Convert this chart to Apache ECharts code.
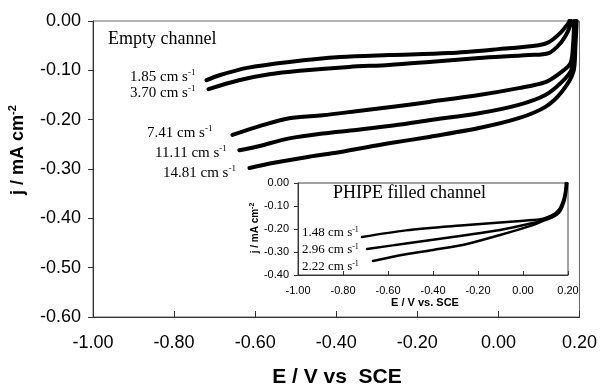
<!DOCTYPE html>
<html>
<head>
<meta charset="utf-8">
<script src="https://cdn.jsdelivr.net/npm/echarts@6/dist/echarts.min.js"></script>
<style>
  html, body { margin: 0; padding: 0; background: #fff; }
  #chart { width: 600px; height: 387px; }
</style>
</head>
<body>
<div id="chart"></div>
<script>
// main plot: empty channel, flow rates (cm s-1)
const emptyRates = ['1.85', '3.70', '7.41', '11.11', '14.81']
const empty185 = [[-0.72,-0.120],[-0.688,-0.110],[-0.62,-0.095],[-0.516,-0.083],[-0.39,-0.073],[-0.27,-0.069],[-0.122,-0.065],[0.0,-0.057],[0.099,-0.049],[0.124,-0.043],[0.153,-0.024],[0.173,-0.004],[0.175,0]]
const empty370 = [[-0.715,-0.138],[-0.64,-0.120],[-0.565,-0.108],[-0.49,-0.101],[-0.368,-0.093],[-0.27,-0.089],[-0.171,-0.083],[-0.048,-0.075],[0.075,-0.069],[0.124,-0.065],[0.153,-0.045],[0.172,-0.02],[0.18,0]]
const empty741 = [[-0.656,-0.231],[-0.597,-0.215],[-0.516,-0.197],[-0.434,-0.191],[-0.351,-0.183],[-0.27,-0.175],[-0.171,-0.164],[-0.048,-0.150],[0.05,-0.136],[0.116,-0.124],[0.156,-0.103],[0.178,-0.085],[0.184,-0.05],[0.187,0]]
const empty1111 = [[-0.639,-0.262],[-0.597,-0.255],[-0.516,-0.238],[-0.434,-0.228],[-0.351,-0.221],[-0.27,-0.213],[-0.171,-0.201],[-0.048,-0.187],[0.05,-0.170],[0.116,-0.150],[0.156,-0.124],[0.180,-0.099],[0.187,-0.05],[0.19,0]]
const empty1481 = [[-0.614,-0.298],[-0.557,-0.288],[-0.474,-0.276],[-0.393,-0.266],[-0.27,-0.248],[-0.171,-0.235],[-0.048,-0.217],[0.05,-0.197],[0.116,-0.174],[0.156,-0.144],[0.185,-0.103],[0.19,-0.05],[0.193,0]]

// inset: PHIPE filled channel
const filledRates = ['1.48', '2.96', '2.22']
const filled148 = [[-0.716,-0.235],[-0.52,-0.206],[-0.249,-0.183],[-0.102,-0.172],[0.044,-0.161],[0.09,-0.155],[0.13,-0.14],[0.16,-0.115],[0.18,-0.07],[0.188,-0.03],[0.19,0]]
const filled296 = [[-0.693,-0.287],[-0.52,-0.263],[-0.249,-0.226],[-0.102,-0.204],[0.044,-0.174],[0.09,-0.16],[0.13,-0.145],[0.162,-0.12],[0.182,-0.075],[0.19,-0.03],[0.194,0]]
const filled222 = [[-0.667,-0.339],[-0.52,-0.31],[-0.4,-0.291],[-0.249,-0.265],[-0.102,-0.226],[0.044,-0.183],[0.09,-0.165],[0.13,-0.15],[0.164,-0.125],[0.184,-0.08],[0.193,-0.035],[0.197,0]]

const xTicks = [-1.0, -0.8, -0.6, -0.4, -0.2, 0.0, 0.2]
const yTicksMain = [0, -0.1, -0.2, -0.3, -0.4, -0.5, -0.6]
const yTicksInset = [0, -0.1, -0.2, -0.3, -0.4]

const sans = '"Liberation Sans", Arial, sans-serif'
const serif = '"Liberation Serif", "Times New Roman", serif'

const chart = echarts.init(document.getElementById('chart'))

const fmt = v => v.toFixed(2)

function rateLabel(x, y, rate, size) {
  return {
    type: 'text', x, y, z: 100,
    style: {
      text: '{t|' + rate + ' cm s}{s|-1}',
      align: 'left', verticalAlign: 'middle',
      rich: {
        t: { fontFamily: serif, fontSize: size, fill: '#000' },
        s: { fontFamily: serif, fontSize: Math.round(size * 0.6), fill: '#000', padding: [0, 0, Math.round(size * 0.5), 0] }
      }
    }
  }
}

function curve(name, data, xi, width) {
  return {
    name, type: 'line', xAxisIndex: xi, yAxisIndex: xi,
    data, showSymbol: false, smooth: 0.3, z: 10,
    lineStyle: { color: '#000', width, cap: 'round', join: 'round' },
    silent: true
  }
}

const option = {
  animation: false,
  backgroundColor: '#fff',
  grid: [
    { left: 93, right: 19, top: 21, bottom: 70, show: true, borderColor: '#666', borderWidth: 1 },
    { left: 298, right: 32, top: 183, bottom: 112, show: true, borderColor: '#444', borderWidth: 1, backgroundColor: '#fff' }
  ],
  xAxis: [
    {
      type: 'value', gridIndex: 0, min: xTicks[0], max: xTicks[xTicks.length - 1], interval: 0.2,
      axisLine: { onZero: false, lineStyle: { color: '#333', width: 1 } },
      axisTick: { inside: true, length: 6, lineStyle: { color: '#333' } },
      axisLabel: { formatter: fmt, color: '#000', fontFamily: sans, fontSize: 18, margin: 17 },
      splitLine: { show: false }
    },
    {
      type: 'value', gridIndex: 1, min: xTicks[0], max: xTicks[xTicks.length - 1], interval: 0.2,
      axisLine: { onZero: false, lineStyle: { color: '#333', width: 1 } },
      axisTick: { inside: true, length: 4, lineStyle: { color: '#333' } },
      axisLabel: { formatter: fmt, color: '#000', fontFamily: sans, fontSize: 11, margin: 10 },
      splitLine: { show: false }
    }
  ],
  yAxis: [
    {
      type: 'value', gridIndex: 0, min: yTicksMain[yTicksMain.length - 1], max: yTicksMain[0], interval: 0.1,
      axisLine: { show: true, onZero: false, lineStyle: { color: '#333', width: 1 } },
      axisTick: { show: true, length: 5, lineStyle: { color: '#333' } },
      axisLabel: { formatter: fmt, color: '#000', fontFamily: sans, fontSize: 18, margin: 12 },
      splitLine: { show: false }
    },
    {
      type: 'value', gridIndex: 1, min: yTicksInset[yTicksInset.length - 1], max: yTicksInset[0], interval: 0.1,
      axisLine: { show: true, onZero: false, lineStyle: { color: '#333', width: 1 } },
      axisTick: { show: true, length: 4, lineStyle: { color: '#333' } },
      axisLabel: { formatter: fmt, color: '#000', fontFamily: sans, fontSize: 11, margin: 9 },
      splitLine: { show: false }
    }
  ],
  series: [
    curve(emptyRates[0], empty185, 0, 4),
    curve(emptyRates[1], empty370, 0, 4),
    curve(emptyRates[2], empty741, 0, 4),
    curve(emptyRates[3], empty1111, 0, 4),
    curve(emptyRates[4], empty1481, 0, 4),
    curve(filledRates[0], filled148, 1, 2.5),
    curve(filledRates[1], filled296, 1, 2.5),
    curve(filledRates[2], filled222, 1, 2.5)
  ],
  graphic: [
    // axis titles
    {
      type: 'text', x: 18, y: 150, rotation: Math.PI / 2,
      style: {
        text: '{b|j / mA cm}{s|-2}', align: 'center', verticalAlign: 'middle',
        rich: {
          b: { fontFamily: sans, fontWeight: 'bold', fontSize: 18, fill: '#000' },
          s: { fontFamily: sans, fontWeight: 'bold', fontSize: 11, fill: '#000', padding: [0, 0, 10, 0] }
        }
      }
    },
    {
      type: 'text', x: 337, y: 377,
      style: { text: 'E / V vs  SCE', align: 'center', verticalAlign: 'middle', fontFamily: sans, fontWeight: 'bold', fontSize: 21, fill: '#000' }
    },
    {
      type: 'text', x: 255, y: 228, rotation: Math.PI / 2,
      style: {
        text: '{b|j / mA cm}{s|-2}', align: 'center', verticalAlign: 'middle',
        rich: {
          b: { fontFamily: sans, fontWeight: 'bold', fontSize: 10, fill: '#000' },
          s: { fontFamily: sans, fontWeight: 'bold', fontSize: 7, fill: '#000', padding: [0, 0, 6, 0] }
        }
      }
    },
    {
      type: 'text', x: 425, y: 303, z: 100,
      style: { text: 'E / V vs. SCE', align: 'center', verticalAlign: 'middle', fontFamily: sans, fontWeight: 'bold', fontSize: 11, fill: '#000' }
    },
    // annotations
    {
      type: 'text', x: 108, y: 39,
      style: { text: 'Empty channel', align: 'left', verticalAlign: 'middle', fontFamily: serif, fontSize: 18, fill: '#000' }
    },
    {
      type: 'text', x: 333, y: 193, z: 100,
      style: { text: 'PHIPE filled channel', align: 'left', verticalAlign: 'middle', fontFamily: serif, fontSize: 18, fill: '#000' }
    },
    rateLabel(130, 77, emptyRates[0], 15),
    rateLabel(130, 93, emptyRates[1], 15),
    rateLabel(147, 133, emptyRates[2], 15),
    rateLabel(155, 153, emptyRates[3], 15),
    rateLabel(163, 173, emptyRates[4], 15),
    rateLabel(302, 233, filledRates[0], 13),
    rateLabel(302, 250, filledRates[1], 13),
    rateLabel(302, 267, filledRates[2], 13)
  ]
}

chart.setOption(option)
</script>
</body>
</html>
